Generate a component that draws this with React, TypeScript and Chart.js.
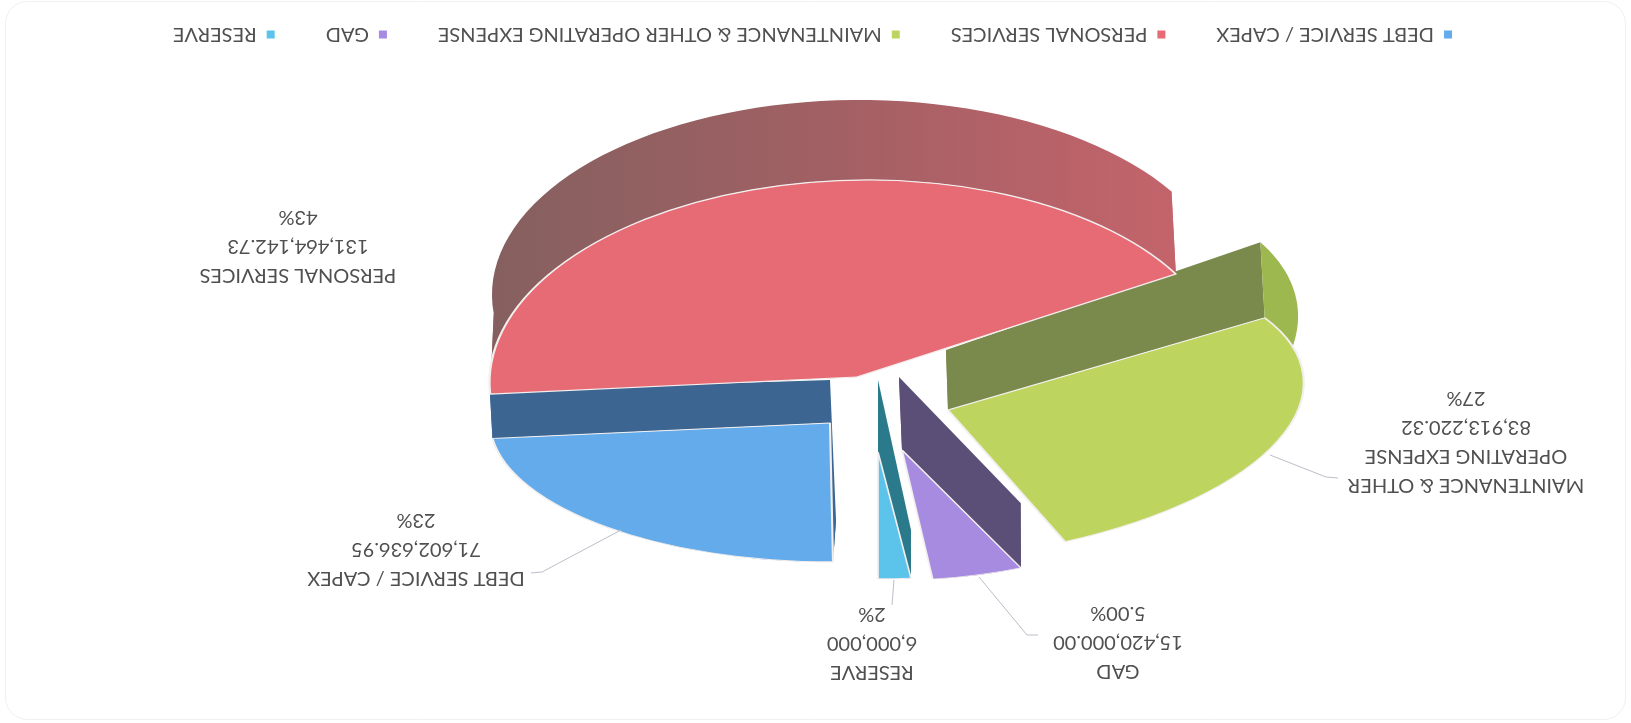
import React, { useEffect, useRef } from "react";
import { Chart, registerables } from "chart.js";

Chart.register(...registerables);

const WIDTH = 1631;
const HEIGHT = 723;

const categories = [
  "DEBT SERVICE / CAPEX",
  "PERSONAL SERVICES",
  "MAINTENANCE & OTHER OPERATING EXPENSE",
  "GAD",
  "RESERVE",
];
const amounts = [71602636.95, 131464142.73, 83913220.32, 15420000, 6000000];
const amountLabels = ["71,602,636.95", "131,464,142.73", "83,913,220.32", "15,420,000.00", "6,000,000"];
const percentLabels = ["23%", "43%", "27%", "5.00%", "2%"];
const nameLines = [
  ["DEBT SERVICE / CAPEX"],
  ["PERSONAL SERVICES"],
  ["MAINTENANCE & OTHER", "OPERATING EXPENSE"],
  ["GAD"],
  ["RESERVE"],
];

const faceColors = ["#63ABEA", "#E76B74", "#BDD55E", "#A68BE0", "#5CC3EA"];
const rimColors = ["#3C6591", "#8A5C5C", "#9DB84E", "#5B4F78", "#2B7A8C"];
const sideColors = ["#3C6591", "#B5616A", "#7A8A4C", "#5B4F78", "#2B7A8C"];
const FONT = "Lato";
const FONT_SIZE = 20;
const LEGEND_GAP = 51;
const TEXT_COLOR = "#505050";
const LEADER_COLOR = "#BBBFCA";

// Projection of each slice: centre plus the two image vectors of the unit circle.
type Frame = { c: number[]; u: number[]; v: number[] };
const topFrames: Frame[] = [
  { c: [801, 300], u: [340, 0], v: [3, 139] },
  { c: [774, 346], u: [367, 5], v: [-20, 197] },
  { c: [683, 313], u: [354, -12], v: [-36, 151] },
  { c: [729, 273], u: [292, 0], v: [-5, 130] },
  { c: [753, 271], u: [270, 0], v: [0, 127] },
];
const baseFrames: Frame[] = [
  { c: [801, 343], u: [343, 5], v: [6, 140] },
  { c: [771, 428], u: [368, 3], v: [-5, 195] },
  { c: [685, 373], u: [350, -15], v: [-38, 175] },
  { c: [732, 346], u: [292, 0], v: [-2, 139] },
  { c: [753, 343], u: [270, 0], v: [0, 151] },
];
const paintOrder = [4, 3, 0, 2, 1];

const labelAnchors = [
  { x: 1215, y: 145 },
  { x: 1333, y: 448 },
  { x: 165, y: 238 },
  { x: 513, y: 52 },
  { x: 759, y: 51 },
];
const LINE_STEP = 29;
const leaders = [
  [[1010, 193], [1089, 151], [1100, 150]],
  [],
  [[361, 268], [305, 246], [293, 245]],
  [[652, 146], [604, 88], [593, 88]],
  [[737, 143], [739, 118]],
];

const project = (f: Frame, a: number) => [
  f.c[0] + f.u[0] * Math.cos(a) + f.v[0] * Math.sin(a),
  f.c[1] + f.u[1] * Math.cos(a) + f.v[1] * Math.sin(a),
];

const fillPath = (ctx: CanvasRenderingContext2D, pts: number[][], fill: string | CanvasGradient) => {
  ctx.beginPath();
  pts.forEach((p, i) => (i ? ctx.lineTo(p[0], p[1]) : ctx.moveTo(p[0], p[1])));
  ctx.closePath();
  ctx.fillStyle = fill;
  ctx.fill();
};

// Extruded pie: side walls and rim first, then the library's arc under the slice's affine frame.
const extrudedPie = {
  id: "extrudedPie",
  beforeDatasetsDraw(chart: any) {
    const ctx: CanvasRenderingContext2D = chart.ctx;
    const arcs = chart.getDatasetMeta(0).data;
    paintOrder.forEach((i) => {
      const arc = arcs[i];
      const top = topFrames[i];
      const base = baseFrames[i];
      const start = arc.startAngle;
      const end = arc.endAngle;
      let rim: string | CanvasGradient = rimColors[i];
      let side: string | CanvasGradient = sideColors[i];
      if (i === 1) {
        const g = ctx.createLinearGradient(WIDTH - 490, 0, WIDTH - 1180, 0);
        g.addColorStop(0, "#85605F");
        g.addColorStop(0.5, "#A26064");
        g.addColorStop(1, "#C4646B");
        rim = g;
        side = g;
      }
      [start, end].forEach((a) => {
        fillPath(ctx, [top.c, project(top, a), project(base, a), base.c], side);
      });
      const strip: number[][] = [];
      const steps = 60;
      for (let s = 0; s <= steps; s++) strip.push(project(top, start + ((end - start) * s) / steps));
      for (let s = steps; s >= 0; s--) strip.push(project(base, start + ((end - start) * s) / steps));
      fillPath(ctx, strip, rim);

      const r = arc.outerRadius;
      ctx.save();
      ctx.transform(top.u[0] / r, top.u[1] / r, top.v[0] / r, top.v[1] / r, top.c[0], top.c[1]);
      ctx.translate(-arc.x, -arc.y);
      arc.draw(ctx);
      ctx.restore();
    });
    return false;
  },
  afterDraw(chart: any) {
    const ctx: CanvasRenderingContext2D = chart.ctx;
    ctx.save();
    ctx.strokeStyle = LEADER_COLOR;
    ctx.lineWidth = 1;
    leaders.forEach((pts) => {
      if (!pts.length) return;
      ctx.beginPath();
      pts.forEach((p, i) => (i ? ctx.lineTo(p[0], p[1]) : ctx.moveTo(p[0], p[1])));
      ctx.stroke();
    });
    ctx.fillStyle = TEXT_COLOR;
    ctx.font = `${FONT_SIZE}px ${FONT}`;
    ctx.textAlign = "center";
    ctx.textBaseline = "middle";
    labelAnchors.forEach((a, i) => {
      [...nameLines[i], amountLabels[i], percentLabels[i]].forEach((line, k) => {
        ctx.fillText(line, a.x, a.y + k * LINE_STEP);
      });
    });
    ctx.restore();
  },
  beforeDraw(chart: any) {
    const ctx: CanvasRenderingContext2D = chart.ctx;
    ctx.save();
    ctx.fillStyle = "#FFFFFF";
    ctx.fillRect(0, 0, WIDTH, HEIGHT);
    ctx.strokeStyle = "#F0F0F0";
    ctx.lineWidth = 1;
    ctx.beginPath();
    ctx.roundRect(5.5, 3.5, 1620, 718, 22);
    ctx.stroke();
    ctx.restore();
  },
  afterLayout(chart: any) {
    const lg = chart.legend;
    lg.top = HEIGHT - 34.5 - FONT_SIZE / 2 - LEGEND_GAP;
    lg.bottom = lg.top + lg.height;
    lg.left = 3;
    lg.right = WIDTH + 3;
  },
};

export default function App() {
  const ref = useRef<HTMLCanvasElement>(null);
  useEffect(() => {
    const chart = new Chart(ref.current as HTMLCanvasElement, {
      type: "pie",
      data: {
        labels: categories,
        datasets: [
          {
            data: amounts,
            backgroundColor: faceColors,
            borderColor: "#F3EFEF",
            borderWidth: 2,
          },
        ],
      },
      options: {
        responsive: false,
        animation: false,
        rotation: 0,
        plugins: {
          tooltip: { enabled: false },
          legend: {
            position: "bottom",
            labels: {
              color: TEXT_COLOR,
              font: { family: FONT, size: FONT_SIZE },
              boxWidth: 8,
              boxHeight: 8,
              padding: LEGEND_GAP,
              generateLabels: (c: any) =>
                (Chart as any).overrides.pie.plugins.legend.labels
                  .generateLabels(c)
                  .map((l: any) => ({ ...l, lineWidth: 0 })),
            },
          },
        },
      },
      plugins: [extrudedPie],
    } as any);
    return () => chart.destroy();
  }, []);
  return (
    <div style={{ position: "fixed", left: 0, top: 0, width: WIDTH, height: HEIGHT, background: "#fff" }}>
      <canvas
        ref={ref}
        width={WIDTH}
        height={HEIGHT}
        style={{ display: "block", width: WIDTH, height: HEIGHT, transform: "rotate(180deg)" }}
      />
    </div>
  );
}
